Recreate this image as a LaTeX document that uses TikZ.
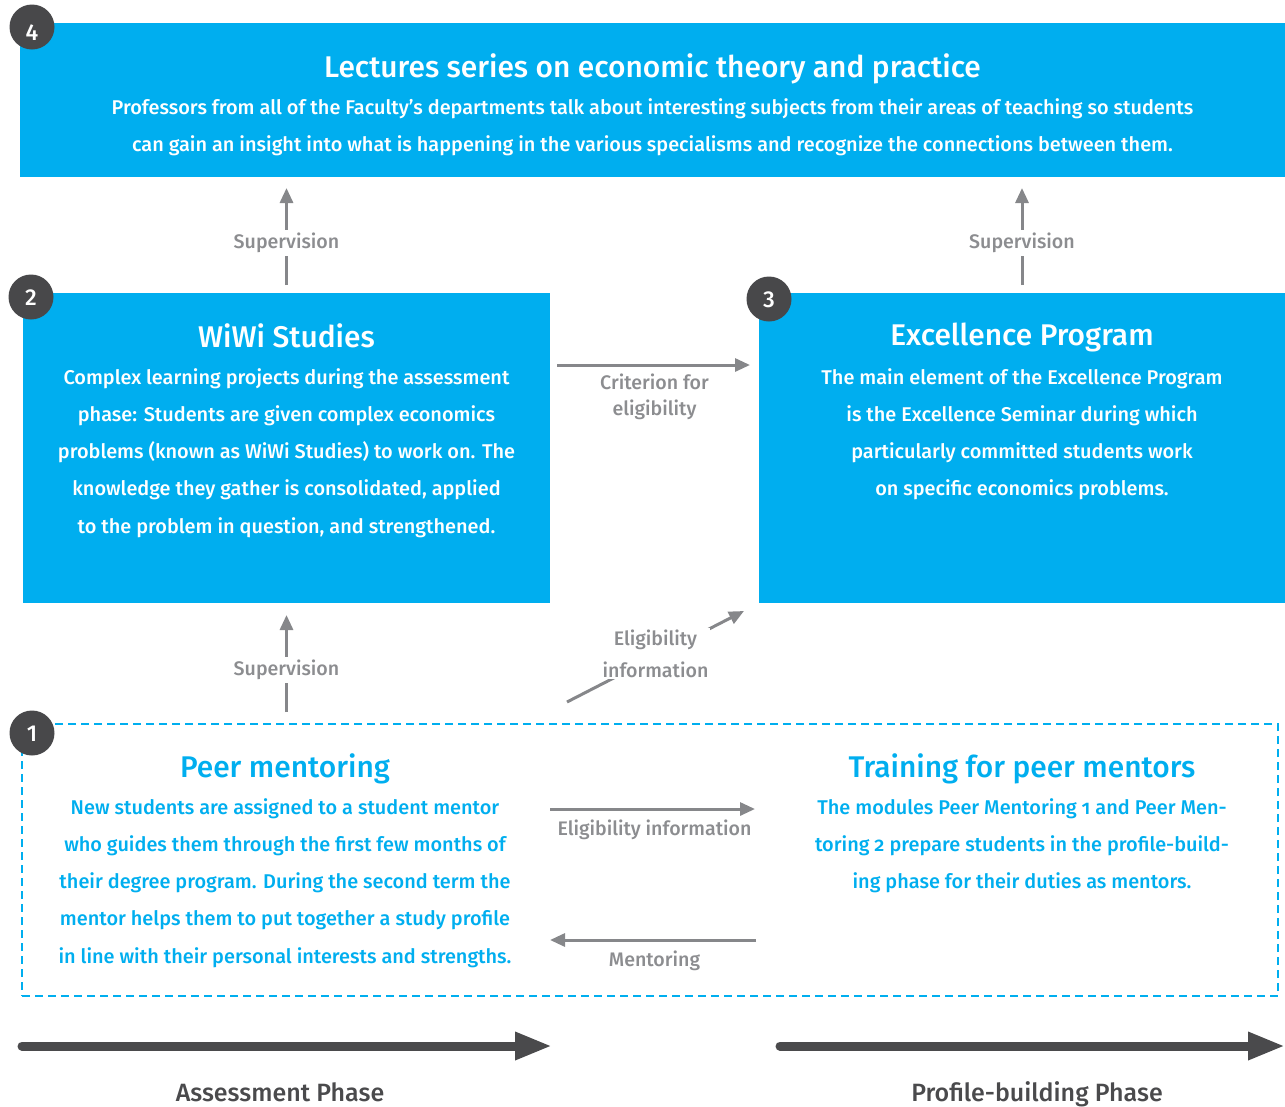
\documentclass[tikz,border=0pt]{standalone}
\usepackage{fontspec}
\setmainfont{Fira Sans}[UprightFont=* Medium,BoldFont=* SemiBold]
\usetikzlibrary{arrows.meta,positioning}
\definecolor{fublue}{HTML}{00AEEF}
\definecolor{badgegray}{HTML}{48484A}
\definecolor{arrowgray}{HTML}{86878A}
\definecolor{labelgray}{HTML}{8C8D90}
\definecolor{phasegray}{HTML}{4A4A4C}
\newcommand{\onum}[1]{{\addfontfeatures{Numbers=OldStyle}#1}}

\begin{document}
\begin{tikzpicture}
  [x=1pt,y=-1pt,
   block/.style={rectangle,fill=fublue,draw=none,outer sep=0,inner sep=0},
   dashblock/.style={rectangle,draw=fublue,line width=2.5pt,dash pattern=on 8pt off 5pt,
                     outer sep=0,inner sep=0},
   badge/.style={circle,fill=badgegray,text=white,minimum size=45pt,inner sep=0,
                 text height=16pt,text depth=0pt,font=\fontsize{23}{23}\selectfont},
   headline/.style={anchor=north,inner sep=0,font=\fontsize{29.9}{30}\selectfont},
   bodytext/.style={anchor=north,inner sep=0,align=center,
                    font=\fontsize{19.9}{37.3}\selectfont},
   flow/.style={draw=arrowgray,line width=3pt,-{Triangle[length=15pt,width=13pt]}},
   flowlabel/.style={text=labelgray,fill=white,align=center,inner sep=3pt,
                     font=\fontsize{19.6}{26}\selectfont},
   phase/.style={draw=phasegray,line width=9pt,line cap=round,
                 -{Triangle[length=37pt,width=26pt]}},
   phaselabel/.style={text=phasegray,anchor=base,font=\fontsize{25}{25}\selectfont}]
  \useasboundingbox (0,0) rectangle (1285,1106);
  % boxes
  \node[block,minimum width=1265pt,minimum height=154pt] (lect) at (652.5,100) {};
  \node[block,minimum width=527pt,minimum height=310pt] (wiwi) at (286.5,448) {};
  \node[block,minimum width=526pt,minimum height=310pt] (excel) at (1022,448) {};
  \node[dashblock,minimum width=1256pt,minimum height=272pt] (peerbox) at (650,860) {};
  % texts
  \node[headline,text=white] (lecttitle) at (652.5,53) {Lectures series on economic theory and practice};
  \node[bodytext,text=white] (lecttext) at (652.5,98) {Professors from all of the Faculty’s departments talk about interesting subjects from their areas of teaching so students\\
    can gain an insight into what is happening in the various specialisms and recognize the connections between them.};
  \node[headline,text=white] (wiwititle) at (286.5,323) {WiWi Studies};
  \node[bodytext,text=white] (wiwitext) at (286.5,368) {Complex learning projects during the assessment\\
    phase: Students are given complex economics\\
    problems (known as WiWi Studies) to work on. The\\
    knowledge they gather is consolidated, applied\\
    to the problem in question, and strengthened.};
  \node[headline,text=white] (exceltitle) at (1022,323) {Excellence Program};
  \node[bodytext,text=white] (exceltext) at (1022,368) {The main element of the Excellence Program\\
    is the Excellence Seminar during which\\
    particularly committed students work\\
    on specific economics problems.};
  \node[headline,text=fublue] (peertitle) at (285,753) {Peer mentoring};
  \node[bodytext,text=fublue] (peertext) at (285,798) {New students are assigned to a student mentor\\
    who guides them through the first few months of\\
    their degree program. During the second term the\\
    mentor helps them to put together a study profile\\
    in line with their personal interests and strengths.};
  \node[headline,text=fublue] (traintitle) at (1022,753) {Training for peer mentors};
  \node[bodytext,text=fublue] (traintext) at (1022,798) {The modules Peer Mentoring \onum{1} and Peer Men-\\
    toring \onum{2} prepare students in the profile-build-\\
    ing phase for their duties as mentors.};
  % badges
  \node[badge] (b4) at (32,27) {\raisebox{-5pt}{4}};
  \node[badge] (b2) at (31,297) {2};
  \node[badge] (b3) at (769,299) {3};
  \node[badge] (b1) at (32,733) {1};
  % connectors
  \draw[flow,shorten <=8pt,shorten >=11pt] (wiwi.north) -- node[flowlabel,pos=0.43] {Supervision} (wiwi.north |- lect.south);
  \draw[flow,shorten <=8pt,shorten >=11pt] (excel.north) -- node[flowlabel,pos=0.43] {Supervision} (excel.north |- lect.south);
  \draw[flow,shorten <=12pt,shorten >=12pt] (wiwi.south |- peerbox.north) -- node[flowlabel,pos=0.45] {Supervision} (wiwi.south);
  \draw[flow,shorten <=7pt,shorten >=9pt] ([yshift=-72pt]wiwi.north east) -- node[flowlabel,below=4pt] {Criterion for\\eligibility} ([yshift=-72pt]excel.north west);
  \draw[flow] ([xshift=-83pt,yshift=22pt]peerbox.north) -- node[flowlabel,inner sep=2pt,yshift=3pt,font=\fontsize{19.6}{32}\selectfont] {Eligibility\\information} ([xshift=-15pt,yshift=-8pt]excel.south west);
  \draw[flow,shorten >=4pt] (wiwi.south east |- 0,809) -- node[flowlabel,below=8pt,inner sep=1pt] {Eligibility information} (excel.south west |- 0,809);
  \draw[flow,shorten <=3pt] (excel.south west |- 0,940) -- node[flowlabel,below=8pt,inner sep=1pt] {Mentoring} (wiwi.south east |- 0,940);
  % phases
  \coordinate (as1) at (22,1046);
  \coordinate (as2) at (552,1046);
  \coordinate (pb1) at (780,1046);
  \coordinate (pb2) at (1285,1046);
  \draw[phase] (as1) -- (as2);
  \draw[phase] (pb1) -- (pb2);
  \node[phaselabel] (asl) at (280,1101) {Assessment Phase};
  \node[phaselabel] (pbl) at (1037,1101) {Profile-building Phase};
\end{tikzpicture}
\end{document}
